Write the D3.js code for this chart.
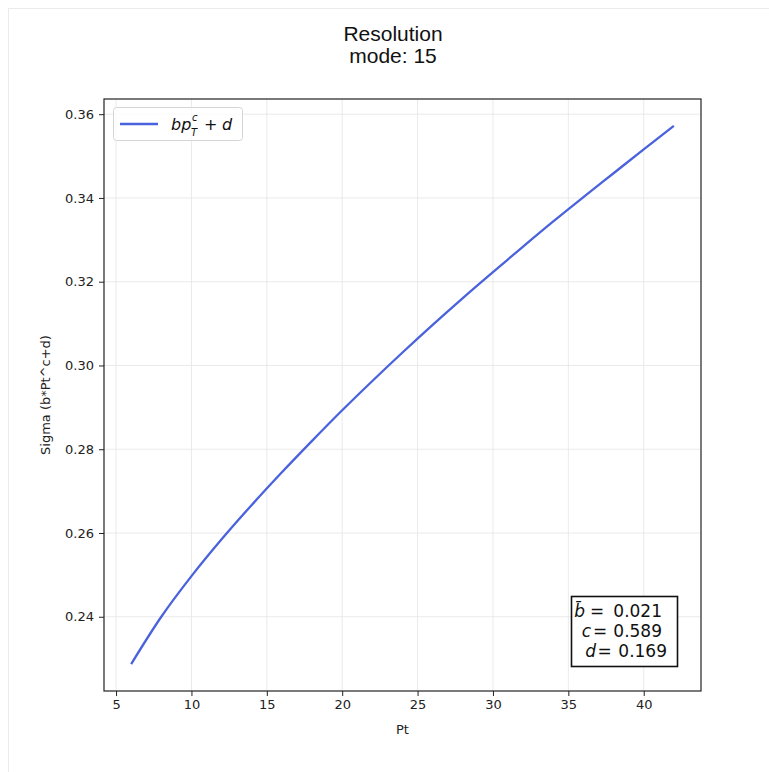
<!DOCTYPE html>
<html>
<head>
<meta charset="utf-8">
<script src="https://cdn.jsdelivr.net/npm/d3@7"></script>
<style>
  body { margin: 0; background: #fff; }
  svg { display: block; }
</style>
</head>
<body>
<div id="chart"></div>
<script>
// Values (Pt, sigma)
const ptValues = [6, 8, 10, 12, 14, 16, 18, 20, 22, 24, 26, 28, 30, 32, 34, 36, 38, 40, 42];
const sigmaValues = [0.2287, 0.2400, 0.2497, 0.2585, 0.2667, 0.2745, 0.2820, 0.2893, 0.2963, 0.3031,
                     0.3097, 0.3161, 0.3223, 0.3284, 0.3344, 0.3402, 0.3459, 0.3516, 0.3572];
const xTicks = [5, 10, 15, 20, 25, 30, 35, 40];
const yTicks = [0.24, 0.26, 0.28, 0.30, 0.32, 0.34, 0.36];
const titleLines = ["Resolution", "mode: 15"];
const fitNames = ["b\u0304", "c", "d"];
const fitValues = ["0.021", "0.589", "0.169"];

const width = 769;
const height = 772;
const margin = { top: 99, right: 68, bottom: 81, left: 104 };
const lineColor = "#4a62dc";

const data = ptValues.map((pt, i) => ({ pt, sigma: sigmaValues[i] }));

const svg = d3.select("#chart")
    .append("svg")
    .attr("width", width)
    .attr("height", height);

// Light frame around the figure
svg.append("rect")
    .attr("x", 8.5).attr("y", 8.5)
    .attr("width", 800).attr("height", 800)
    .attr("fill", "none")
    .attr("stroke", "#ebebeb");

// Scales with matplotlib-like 5% padding
const xPad = (d3.max(ptValues) - d3.min(ptValues)) * 0.05;
const yPad = (d3.max(sigmaValues) - d3.min(sigmaValues)) * 0.05;
const x = d3.scaleLinear()
    .domain([d3.min(ptValues) - xPad, d3.max(ptValues) + xPad])
    .range([margin.left, width - margin.right]);
const y = d3.scaleLinear()
    .domain([d3.min(sigmaValues) - yPad, d3.max(sigmaValues) + yPad])
    .range([height - margin.bottom, margin.top]);

// Grid
const grid = svg.append("g").attr("stroke", "#e4e4e4").attr("stroke-width", 0.8);
grid.selectAll(".gx").data(xTicks).enter().append("line")
    .attr("x1", d => x(d)).attr("x2", d => x(d))
    .attr("y1", margin.top).attr("y2", height - margin.bottom);
grid.selectAll(".gy").data(yTicks).enter().append("line")
    .attr("y1", d => y(d)).attr("y2", d => y(d))
    .attr("x1", margin.left).attr("x2", width - margin.right);

// Axes
const xAxis = svg.append("g")
    .attr("transform", `translate(0,${height - margin.bottom})`)
    .call(d3.axisBottom(x).tickValues(xTicks).tickSize(5).tickPadding(4).tickSizeOuter(0));
const yAxis = svg.append("g")
    .attr("transform", `translate(${margin.left},0)`)
    .call(d3.axisLeft(y).tickValues(yTicks).tickSize(5).tickPadding(5).tickSizeOuter(0)
        .tickFormat(d3.format(".2f")));
[xAxis, yAxis].forEach(a => {
    a.select(".domain").remove();
    a.selectAll("line").attr("stroke", "#222");
    a.selectAll("text")
        .attr("fill", "#222")
        .style("font-family", "DejaVu Sans")
        .style("font-size", "13px");
});

// Frame of the plot area
svg.append("rect")
    .attr("x", margin.left).attr("y", margin.top)
    .attr("width", width - margin.left - margin.right)
    .attr("height", height - margin.top - margin.bottom)
    .attr("fill", "none")
    .attr("stroke", "#222")
    .attr("stroke-width", 1.2);

// Curve
const line = d3.line()
    .x(d => x(d.pt))
    .y(d => y(d.sigma))
    .curve(d3.curveMonotoneX);
svg.append("path")
    .datum(data)
    .attr("fill", "none")
    .attr("stroke", lineColor)
    .attr("stroke-width", 2.3)
    .attr("d", line);

// Title
svg.selectAll(".title").data(titleLines).enter().append("text")
    .attr("x", 393)
    .attr("y", (d, i) => 41 + i * 22)
    .attr("text-anchor", "middle")
    .style("font-family", "Liberation Sans, Arial, sans-serif")
    .style("font-size", "21px")
    .attr("fill", "#111")
    .text(d => d);

// Axis labels
svg.append("text")
    .attr("x", (margin.left + width - margin.right) / 2)
    .attr("y", 734)
    .attr("text-anchor", "middle")
    .style("font-family", "DejaVu Sans")
    .style("font-size", "13px")
    .attr("fill", "#222")
    .text("Pt");
svg.append("text")
    .attr("transform", `translate(50,${(margin.top + height - margin.bottom) / 2}) rotate(-90)`)
    .attr("text-anchor", "middle")
    .style("font-family", "DejaVu Sans")
    .style("font-size", "13px")
    .attr("fill", "#222")
    .text("Sigma (b*Pt^c+d)");

// Legend
const legend = svg.append("g");
legend.append("rect")
    .attr("x", 113.5).attr("y", 107.5)
    .attr("width", 129).attr("height", 33)
    .attr("rx", 3)
    .attr("fill", "#fff")
    .attr("fill-opacity", 0.8)
    .attr("stroke", "#d5d5d5");
legend.append("line")
    .attr("x1", 120).attr("x2", 158)
    .attr("y1", 124).attr("y2", 124)
    .attr("stroke", lineColor)
    .attr("stroke-width", 2.3);
const mathFont = "DejaVu Sans";
const legendParts = [
    { t: "bp", x: 171, y: 130, size: 16, italic: true },
    { t: "c", x: 192, y: 121, size: 10, italic: true },
    { t: "T", x: 191, y: 136, size: 10, italic: true },
    { t: "+", x: 204, y: 130, size: 16, italic: false },
    { t: "d", x: 222, y: 130, size: 16, italic: true }
];
legend.selectAll(".lp").data(legendParts).enter().append("text")
    .attr("x", d => d.x).attr("y", d => d.y)
    .style("font-family", mathFont)
    .style("font-style", d => d.italic ? "oblique" : "normal")
    .style("font-size", d => d.size + "px")
    .attr("fill", "#111")
    .text(d => d.t);

// Fit parameter box (lines centred like matplotlib multi-line text)
const box = svg.append("g");
box.append("rect")
    .attr("x", 571.5).attr("y", 596.5)
    .attr("width", 106).attr("height", 70)
    .attr("fill", "#fff")
    .attr("stroke", "#111")
    .attr("stroke-width", 1.6);
const rowY = [617, 637, 657];
const valEnd = [662, 662, 667];
const eqMid = [597, 600, 604.5];
const nameEnd = [585, 591, 596];
box.selectAll(".val").data(fitValues).enter().append("text")
    .attr("x", (d, i) => valEnd[i]).attr("y", (d, i) => rowY[i])
    .attr("text-anchor", "end")
    .style("font-family", mathFont).style("font-size", "17px")
    .attr("fill", "#111")
    .text(d => d);
box.selectAll(".eq").data(fitValues).enter().append("text")
    .attr("x", (d, i) => eqMid[i]).attr("y", (d, i) => rowY[i])
    .attr("text-anchor", "middle")
    .style("font-family", mathFont).style("font-size", "17px")
    .attr("fill", "#111")
    .text("=");
box.selectAll(".nm").data(fitNames).enter().append("text")
    .attr("x", (d, i) => nameEnd[i]).attr("y", (d, i) => rowY[i])
    .attr("text-anchor", "end")
    .style("font-family", mathFont).style("font-style", "oblique").style("font-size", "17px")
    .attr("fill", "#111")
    .text(d => d);
</script>
</body>
</html>
